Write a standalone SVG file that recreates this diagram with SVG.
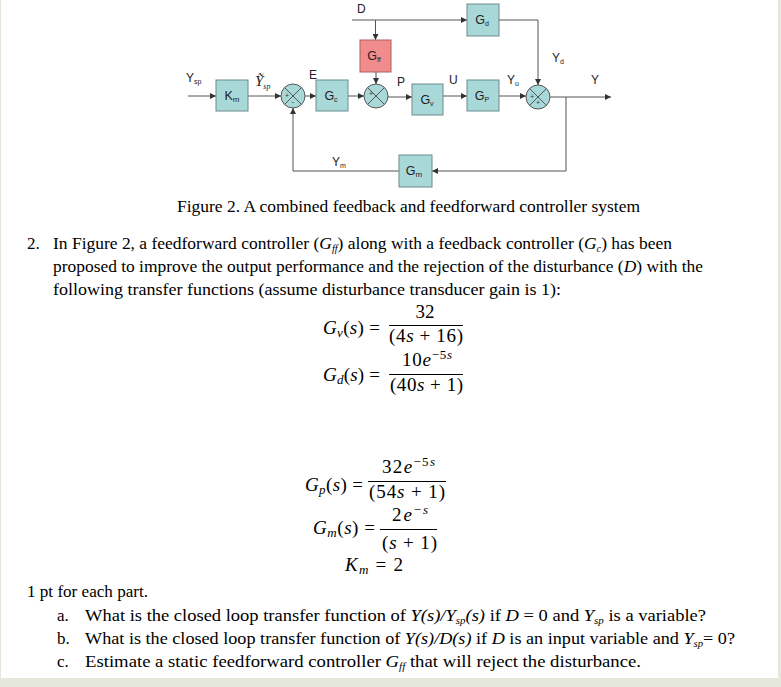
<svg xmlns="http://www.w3.org/2000/svg" width="781" height="687" viewBox="0 0 781 687">
<defs>
<marker id="ah" viewBox="0 0 8 8" refX="8" refY="4" markerWidth="6" markerHeight="6" markerUnits="userSpaceOnUse" orient="auto">
<path d="M0,0 L8,4 L0,8 z" fill="#333"/>
</marker>
<style>
.box{fill:#a9d8d8;stroke:#6a8c8c;stroke-width:1}
.ff{fill:#f08c8c;stroke:#a86060;stroke-width:1}
.sj{fill:#a9d8d8;stroke:#555;stroke-width:1}
.x{stroke:#555;stroke-width:1}
.ln{fill:none;stroke:#555;stroke-width:1}
.arr{marker-end:url(#ah)}
.lb{font-family:"Liberation Sans",Arial,sans-serif;font-size:12px;fill:#222}
.bl{font-family:"Liberation Sans",Arial,sans-serif;font-size:12.5px;fill:#222;text-anchor:middle}
.sg{font-family:"Liberation Sans",Arial,sans-serif;font-size:7px;fill:#333;text-anchor:middle}
.tx{font-family:"Liberation Serif","Times New Roman",serif;font-size:17px;fill:#000}
.eq{font-family:"Liberation Serif","Times New Roman",serif;font-size:19px;fill:#000}
.i{font-style:italic}
.fl{stroke:#000;stroke-width:1}
</style>
</defs>
<rect x="0" y="0" width="781" height="687" fill="#e5e6dc"/>
<rect x="1" y="0" width="777" height="678" fill="#fff"/>

<g id="connectors">
<path class="ln arr" d="M188,96 H216"/>
<path class="ln arr" d="M248,96 H281"/>
<path class="ln arr" d="M305,96 H316"/>
<path class="ln arr" d="M348,96 H364"/>
<path class="ln arr" d="M388,97 H412"/>
<path class="ln arr" d="M443,96 H467"/>
<path class="ln arr" d="M499,96 H526"/>
<path class="ln arr" d="M550,97 H611"/>
<path class="ln arr" d="M566,97 V171 H432"/>
<path class="ln arr" d="M399,171 H293 V108"/>
<path class="ln arr" d="M352,20 H467"/>
<path class="ln arr" d="M375.5,20 V40"/>
<path class="ln arr" d="M376,72 V84"/>
<path class="ln arr" d="M499,20 H538 V85"/>
</g>

<g id="Km"><rect class="box" x="216" y="80" width="32" height="31"/><text class="bl" x="232" y="100">K<tspan font-size="8" dy="2">m</tspan></text></g>
<g id="J1"><circle class="sj" cx="293" cy="96" r="12"/><path class="x" d="M284.5,87.5 L301.5,104.5 M301.5,87.5 L284.5,104.5"/><text class="sg" x="287" y="98">+</text><text class="sg" x="293" y="104">-</text></g>
<g id="Gc"><rect class="box" x="316" y="80" width="32" height="31"/><text class="bl" x="331" y="100">G<tspan font-size="7" dy="2">c</tspan></text></g>
<g id="J2"><circle class="sj" cx="376" cy="96" r="12"/><path class="x" d="M367.5,87.5 L384.5,104.5 M384.5,87.5 L367.5,104.5"/><text class="sg" x="371" y="96">+</text></g>
<g id="Gff"><rect class="ff" x="360" y="40" width="31" height="32"/><text class="bl" x="374" y="60">G<tspan font-size="7" dy="2">ff</tspan></text></g>
<g id="Gv"><rect class="box" x="412" y="84" width="31" height="31"/><text class="bl" x="427" y="104">G<tspan font-size="7" dy="2">v</tspan></text></g>
<g id="Gp"><rect class="box" x="467" y="80" width="32" height="31"/><text class="bl" x="482" y="100">G<tspan font-size="7" dy="2">P</tspan></text></g>
<g id="Gd"><rect class="box" x="467" y="4" width="32" height="32"/><text class="bl" x="482" y="24">G<tspan font-size="7" dy="2">d</tspan></text></g>
<g id="J3"><circle class="sj" cx="538" cy="97" r="12"/><path class="x" d="M529.5,88.5 L546.5,105.5 M546.5,88.5 L529.5,105.5"/><text class="sg" x="532" y="99">+</text><text class="sg" x="538" y="105">+</text></g>
<g id="Gm"><rect class="box" x="399" y="155" width="33" height="32"/><text class="bl" x="414" y="175">G<tspan font-size="8" dy="2">m</tspan></text></g>

<g id="labels">
<text class="lb" x="357" y="13">D</text>
<text class="lb" x="186" y="82">Y<tspan font-size="7" dy="2">sp</tspan></text>
<text x="255" y="86" font-family="Liberation Serif,serif" font-style="italic" font-size="15" fill="#222">Ỹ<tspan font-size="8" dy="3">sp</tspan></text>
<text class="lb" x="309" y="79">E</text>
<text class="lb" x="397" y="86">P</text>
<text class="lb" x="449" y="84">U</text>
<text class="lb" x="507" y="84">Y<tspan font-size="7" dy="2">u</tspan></text>
<text class="lb" x="591" y="84">Y</text>
<text class="lb" x="552" y="62">Y<tspan font-size="7" dy="2">d</tspan></text>
<text class="lb" x="332" y="166">Y<tspan font-size="7" dy="2">m</tspan></text>
</g>

<g id="text">
<text class="tx" x="177" y="212" textLength="463" lengthAdjust="spacingAndGlyphs">Figure 2. A combined feedback and feedforward controller system</text>
<text class="tx" x="27" y="249">2.</text>
<text class="tx" x="53" y="249" textLength="619" lengthAdjust="spacingAndGlyphs">In Figure 2, a feedforward controller (<tspan class="i">G</tspan><tspan class="i" font-size="10" dy="3">ff</tspan><tspan dy="-3">) along with a feedback controller (</tspan><tspan class="i">G</tspan><tspan class="i" font-size="10" dy="3">c</tspan><tspan dy="-3">) has been</tspan></text>
<text class="tx" x="53" y="272" textLength="650" lengthAdjust="spacingAndGlyphs">proposed to improve the output performance and the rejection of the disturbance (<tspan class="i">D</tspan>) with the</text>
<text class="tx" x="53" y="295" textLength="508" lengthAdjust="spacingAndGlyphs">following transfer functions (assume disturbance transducer gain is 1):</text>

<text class="tx" x="27" y="597" textLength="121" lengthAdjust="spacingAndGlyphs">1 pt for each part.</text>
<text class="tx" x="57" y="621">a.</text>
<text class="tx" x="85" y="621" textLength="621" lengthAdjust="spacingAndGlyphs">What is the closed loop transfer function of <tspan class="i">Y(s)/Y</tspan><tspan class="i" font-size="10" dy="3">sp</tspan><tspan class="i" dy="-3">(s)</tspan> if <tspan class="i">D</tspan> = 0 and <tspan class="i">Y</tspan><tspan class="i" font-size="10" dy="3">sp</tspan><tspan dy="-3"> is a variable?</tspan></text>
<text class="tx" x="57" y="644">b.</text>
<text class="tx" x="85" y="644" textLength="650" lengthAdjust="spacingAndGlyphs">What is the closed loop transfer function of <tspan class="i">Y(s)/D(s)</tspan> if <tspan class="i">D</tspan> is an input variable and <tspan class="i">Y</tspan><tspan class="i" font-size="10" dy="3">sp</tspan><tspan dy="-3">= 0?</tspan></text>
<text class="tx" x="57" y="667">c.</text>
<text class="tx" x="85" y="667" textLength="556" lengthAdjust="spacingAndGlyphs">Estimate a static feedforward controller <tspan class="i">G</tspan><tspan class="i" font-size="10" dy="3">ff</tspan><tspan dy="-3"> that will reject the disturbance.</tspan></text>
</g>

<g id="equations">
<text class="eq" x="323" y="334" textLength="57" lengthAdjust="spacing"><tspan class="i">G</tspan><tspan class="i" font-size="13" dy="3">v</tspan><tspan dy="-3">(</tspan><tspan class="i">s</tspan>) =</text>
<text class="eq" x="425" y="318" text-anchor="middle">32</text>
<line class="fl" x1="389" y1="325.5" x2="463" y2="325.5"/>
<text class="eq" x="389" y="342" textLength="74" lengthAdjust="spacing">(4<tspan class="i">s</tspan> + 16)</text>

<text class="eq" x="323" y="381" textLength="57" lengthAdjust="spacing"><tspan class="i">G</tspan><tspan class="i" font-size="13" dy="3">d</tspan><tspan dy="-3">(</tspan><tspan class="i">s</tspan>) =</text>
<text class="eq" x="402" y="366" textLength="50" lengthAdjust="spacing">10<tspan class="i">e</tspan><tspan font-size="13" dy="-7">−5</tspan><tspan class="i" font-size="13">s</tspan></text>
<line class="fl" x1="389" y1="374.5" x2="463" y2="374.5"/>
<text class="eq" x="390" y="391" textLength="73" lengthAdjust="spacing">(40<tspan class="i">s</tspan> + 1)</text>

<text class="eq" x="305" y="491" textLength="58" lengthAdjust="spacing"><tspan class="i">G</tspan><tspan class="i" font-size="13" dy="3">p</tspan><tspan dy="-3">(</tspan><tspan class="i">s</tspan>) =</text>
<text class="eq" x="382" y="473" textLength="53" lengthAdjust="spacing">32<tspan class="i">e</tspan><tspan font-size="13" dy="-7">−5</tspan><tspan class="i" font-size="13">s</tspan></text>
<line class="fl" x1="368" y1="481.5" x2="446" y2="481.5"/>
<text class="eq" x="369" y="498" textLength="76" lengthAdjust="spacing">(54<tspan class="i">s</tspan> + 1)</text>

<text class="eq" x="313" y="534" textLength="62" lengthAdjust="spacing"><tspan class="i">G</tspan><tspan class="i" font-size="13" dy="3">m</tspan><tspan dy="-3">(</tspan><tspan class="i">s</tspan>) =</text>
<text class="eq" x="392" y="521" textLength="36" lengthAdjust="spacing">2<tspan class="i">e</tspan><tspan font-size="13" dy="-7">−</tspan><tspan class="i" font-size="13">s</tspan></text>
<line class="fl" x1="380" y1="529.5" x2="437" y2="529.5"/>
<text class="eq" x="382" y="549" textLength="55" lengthAdjust="spacing">(<tspan class="i">s</tspan> + 1)</text>

<text class="eq" x="345" y="571" textLength="58" lengthAdjust="spacing"><tspan class="i">K</tspan><tspan class="i" font-size="13" dy="3">m</tspan><tspan dy="-3"> = 2</tspan></text>
</g>
</svg>
